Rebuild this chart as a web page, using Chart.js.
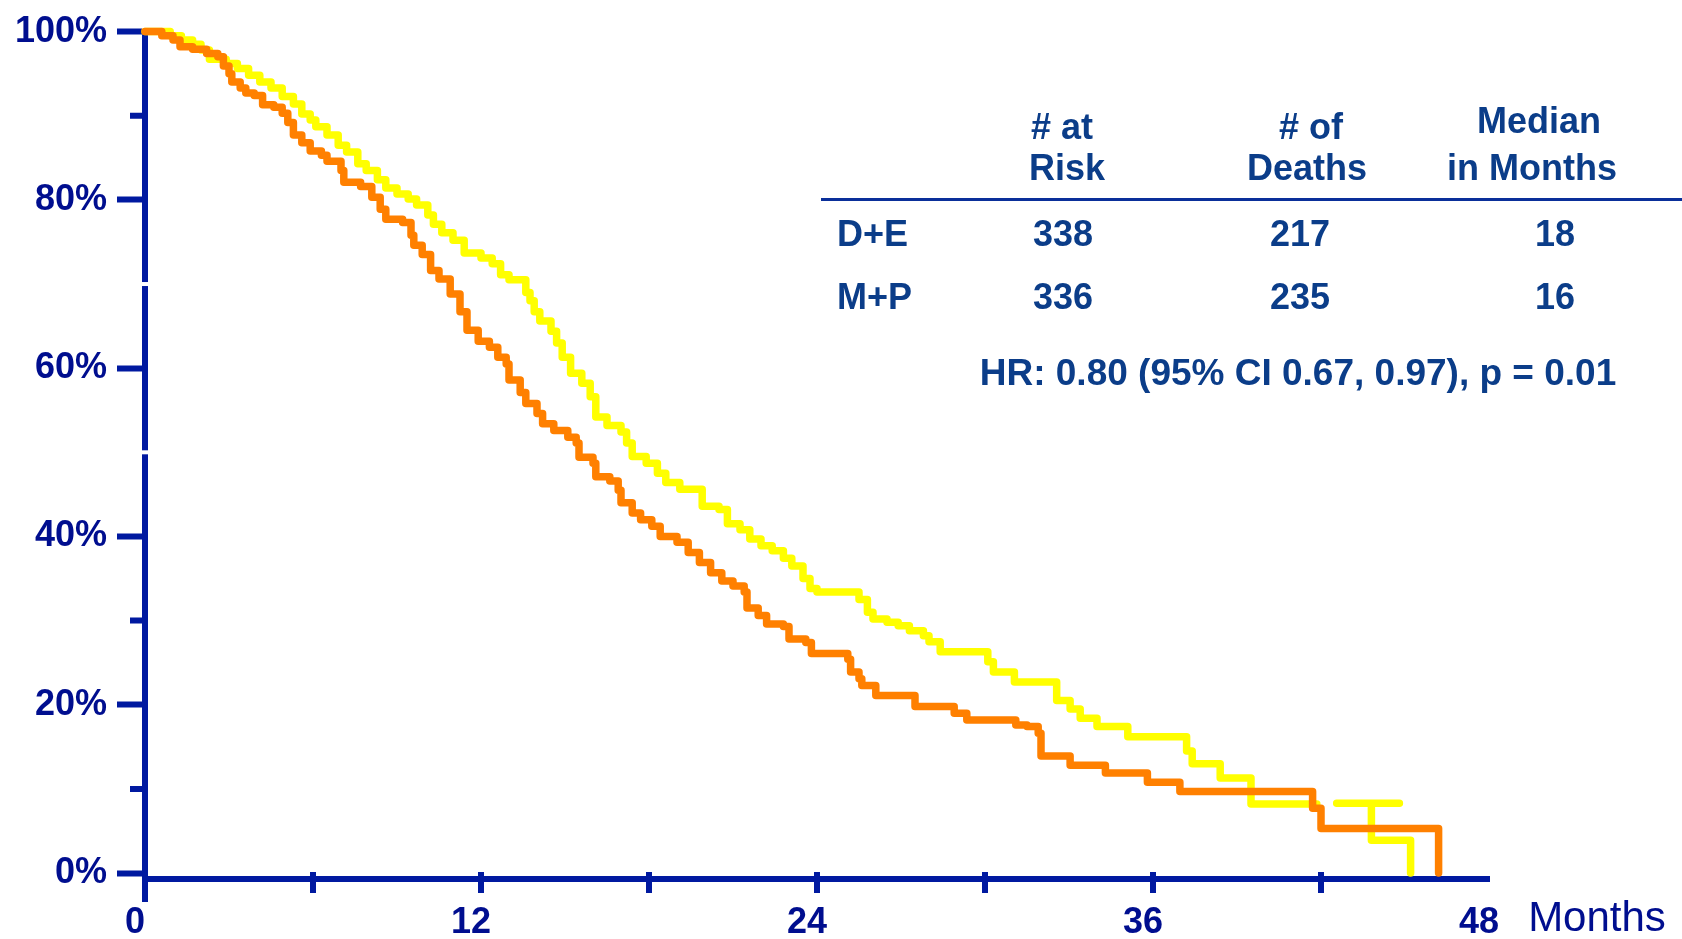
<!DOCTYPE html>
<html>
<head>
<meta charset="utf-8">
<script src="https://cdn.jsdelivr.net/npm/chart.js@4.4.1/dist/chart.umd.min.js"></script>
<style>
body { margin: 0; background: #fff; }
#wrap { position: relative; width: 1682px; height: 939px; }
.t { position: absolute; transform: translate(-50%, -50%); white-space: nowrap; line-height: 1;
     font-family: "Liberation Sans", Arial, sans-serif;
     font-weight: bold; font-size: 36px; color: #0b3d89; }
.l { transform: translate(0, -50%); }
.hr { font-size: 37px; }
#rule { position: absolute; left: 821px; top: 198px; width: 861px; height: 3px; background: #0a2f9a; }
#months { position: absolute; left: 1597px; top: 917px; transform: translate(-50%, -50%); line-height: 1;
          font-family: "Liberation Sans", Arial, sans-serif; font-size: 42px; color: #000e8f; }
</style>
</head>
<body>
<div id="wrap">
  <canvas id="myChart" width="1682" height="939"></canvas>
  <div id="table"></div>
  <div id="rule"></div>
  <div id="months">Months</div>
</div>
<script>
// axis ticks
var monthTicks = [0, 6, 12, 18, 24, 30, 36, 42, 48];
var monthLabels = ["0", "", "12", "", "24", "", "36", "", "48"];
var pctTicks = [0, 0.2, 0.4, 0.6, 0.8, 1];
var pctLabels = ["0%", "20%", "40%", "60%", "80%", "100%"];
var minorPct = [0.1, 0.3, 0.9];
var breakPct = [0.5, 0.7];

// D+E (yellow), null = gap in the drawn curve
var deT = [0, 0.9, 1.3, 1.7, 2.0, 2.3, 2.9, 3.3, 3.7, 4.1, 4.5, 4.9, 5.3, 5.6, 5.9, 6.1, 6.5, 6.9, 7.2, 7.6,
  7.9, 8.3, 8.6, 9.0, 9.4, 9.7, 10.1, 10.3, 10.6, 11.0, 11.4, 12.0, 12.4, 12.7, 13.0, 13.6, 13.75, 13.9, 14.1, 14.5,
  14.7, 14.9, 15.2, 15.6, 15.9, 16.1, 16.5, 17.0, 17.2, 17.4, 17.9, 18.3, 18.6, 19.1, 19.9, 20.5, 20.8, 21.25, 21.6, 22.0,
  22.4, 22.8, 23.1, 23.5, 23.75, 24.0, 25.5, 25.8, 26.0, 26.5, 26.9, 27.3, 27.8, 28.0, 28.4, 30.1, 30.3, 31.05, 32.56, 33.04,
  33.4, 34.0, 35.1, 37.2, 37.4, 38.4, 39.5, 41.85, null, 42.56, 44.8, null, 43.8, 43.8, 45.2];
var deS = [1, 0.995, 0.99, 0.985, 0.978, 0.967, 0.962, 0.956, 0.948, 0.94, 0.933, 0.923, 0.914, 0.902, 0.895, 0.887, 0.877, 0.865, 0.857, 0.843,
  0.835, 0.824, 0.814, 0.807, 0.801, 0.794, 0.782, 0.771, 0.761, 0.752, 0.737, 0.731, 0.724, 0.711, 0.705, 0.69, 0.68, 0.667, 0.656, 0.644,
  0.63, 0.613, 0.594, 0.582, 0.566, 0.542, 0.532, 0.524, 0.511, 0.495, 0.487, 0.475, 0.464, 0.456, 0.436, 0.432, 0.415, 0.408, 0.397, 0.389,
  0.383, 0.374, 0.365, 0.35, 0.338, 0.334, 0.325, 0.31, 0.302, 0.298, 0.294, 0.288, 0.282, 0.275, 0.263, 0.251, 0.239, 0.227, 0.205, 0.195,
  0.184, 0.174, 0.162, 0.145, 0.13, 0.113, 0.082, 0.082, null, 0.083, 0.083, null, 0.083, 0.039, 0];

// M+P (orange)
var mpT = [0, 0.6, 1.0, 1.25, 1.7, 2.2, 2.6, 2.8, 3.0, 3.1, 3.4, 3.6, 3.9, 4.2, 4.6, 4.9, 5.1, 5.3, 5.6, 5.9,
  6.3, 6.5, 7.0, 7.1, 7.7, 8.1, 8.4, 8.6, 9.2, 9.5, 9.6, 9.9, 10.2, 10.5, 10.9, 11.25, 11.5, 11.9, 12.3, 12.6,
  12.9, 13.0, 13.4, 13.6, 14.0, 14.2, 14.6, 15.1, 15.4, 15.5, 16.0, 16.1, 16.6, 16.9, 17.0, 17.4, 17.7, 18.1, 18.4, 19.0,
  19.4, 19.8, 20.2, 20.6, 21.0, 21.4, 21.5, 21.9, 22.2, 22.8, 23.0, 23.6, 23.8, 25.1, 25.2, 25.5, 25.6, 26.1, 27.5, 28.9,
  29.35, 31.1, 31.5, 31.9, 32.0, 33.04, 34.3, 35.8, 36.96, 41.7, 42.0, 46.2];
var mpS = [1, 0.995, 0.99, 0.982, 0.979, 0.974, 0.97, 0.959, 0.95, 0.94, 0.933, 0.927, 0.924, 0.913, 0.91, 0.903, 0.892, 0.877, 0.868, 0.858,
  0.853, 0.846, 0.835, 0.821, 0.816, 0.803, 0.789, 0.777, 0.773, 0.758, 0.746, 0.735, 0.716, 0.706, 0.688, 0.667, 0.645, 0.632, 0.625, 0.613,
  0.605, 0.586, 0.571, 0.558, 0.546, 0.534, 0.526, 0.518, 0.511, 0.494, 0.487, 0.471, 0.466, 0.455, 0.44, 0.428, 0.42, 0.412, 0.4, 0.393,
  0.381, 0.369, 0.357, 0.347, 0.341, 0.334, 0.315, 0.306, 0.296, 0.293, 0.278, 0.274, 0.261, 0.254, 0.239, 0.231, 0.223, 0.211, 0.198, 0.19,
  0.182, 0.176, 0.174, 0.166, 0.139, 0.128, 0.119, 0.108, 0.097, 0.077, 0.053, 0];

// summary table
var groups = ["D+E", "M+P"];
var atRisk = [338, 336];
var deaths = [217, 235];
var medians = [18, 16];
var hrText = "HR: 0.80 (95% CI 0.67, 0.97), p = 0.01";

var axisColor = "#0019a0";
var labelColor = "#000e8f";

function pts(ts, ss) {
  return ts.map(function (t, i) { return t === null ? { x: null, y: null } : { x: t, y: ss[i] }; });
}

// table as real text
var tbl = document.getElementById("table");
function put(txt, x, y, cls) {
  var d = document.createElement("div");
  d.className = "t" + (cls ? " " + cls : "");
  d.style.left = x + "px";
  d.style.top = y + "px";
  d.textContent = txt;
  tbl.appendChild(d);
}
put("# at", 1062, 127); put("Risk", 1067, 168);
put("# of", 1311, 127); put("Deaths", 1307, 168);
put("Median", 1539, 121); put("in Months", 1532, 168);
groups.forEach(function (g, i) {
  var y = 234 + i * 63;
  put(g, 837, y, "l");
  put(String(atRisk[i]), 1063, y);
  put(String(deaths[i]), 1300, y);
  put(String(medians[i]), 1555, y);
});
put(hrText, 1298, 372, "hr");

var extraTicks = {
  id: "extraTicks",
  afterDraw: function (chart) {
    var c = chart.ctx, xs = chart.scales.x, ys = chart.scales.y, a = chart.chartArea;
    c.save();
    c.strokeStyle = axisColor;
    c.lineWidth = 6;
    c.beginPath();
    // y axis runs on below the x axis
    c.moveTo(a.left, a.bottom);
    c.lineTo(a.left, a.bottom + 23);
    minorPct.forEach(function (v) {
      var y = ys.getPixelForValue(v);
      c.moveTo(a.left - 15, y);
      c.lineTo(a.left, y);
    });
    monthTicks.slice(1, -1).forEach(function (v) {
      var x = xs.getPixelForValue(v);
      c.moveTo(x, a.bottom - 7);
      c.lineTo(x, a.bottom + 14);
    });
    c.stroke();
    c.fillStyle = "#fff";
    breakPct.forEach(function (v) {
      var y = ys.getPixelForValue(v);
      c.fillRect(a.left - 4, y - 2, 8, 4);
    });
    c.restore();
  }
};

var ctx = document.getElementById("myChart").getContext("2d");
var myChart = new Chart(ctx, {
  type: "line",
  data: {
    datasets: [{
      label: "M+P",
      data: pts(mpT, mpS),
      borderColor: "#ff8000",
      order: 0
    }, {
      label: "D+E",
      data: pts(deT, deS),
      borderColor: "#ffff00",
      order: 1
    }]
  },
  options: {
    responsive: false,
    animation: false,
    layout: { padding: { left: 0, top: 27, right: 193, bottom: 0 } },
    elements: {
      point: { radius: 0 },
      line: { borderWidth: 7.5, stepped: "before", borderCapStyle: "round", borderJoinStyle: "round", fill: false }
    },
    datasets: { line: { clip: false, spanGaps: false } },
    plugins: { legend: { display: false }, tooltip: { enabled: false } },
    scales: {
      x: {
        type: "linear",
        min: 0,
        max: 48,
        afterBuildTicks: function (s) { s.ticks = monthTicks.map(function (v) { return { value: v }; }); },
        afterFit: function (s) { s.height = 60; },
        grid: { display: false, drawTicks: false },
        border: { display: true, color: axisColor, width: 6 },
        ticks: {
          padding: 22,
          labelOffset: -10,
          maxRotation: 0,
          autoSkip: false,
          color: labelColor,
          font: { family: "'Liberation Sans', Arial, sans-serif", weight: "bold", size: 36 },
          callback: function (v, i) { return monthLabels[i]; }
        }
      },
      y: {
        min: -0.0071,
        max: 1,
        afterBuildTicks: function (s) { s.ticks = pctTicks.map(function (v) { return { value: v }; }); },
        afterFit: function (s) { s.width = 145; },
        grid: { display: true, drawOnChartArea: false, drawTicks: true, tickLength: 28, tickWidth: 6, tickColor: axisColor },
        border: { display: true, color: axisColor, width: 6 },
        ticks: {
          padding: 10,
          autoSkip: false,
          color: labelColor,
          font: { family: "'Liberation Sans', Arial, sans-serif", weight: "bold", size: 36 },
          callback: function (v, i) { return pctLabels[i]; }
        }
      }
    }
  },
  plugins: [extraTicks]
});
</script>
</body>
</html>
